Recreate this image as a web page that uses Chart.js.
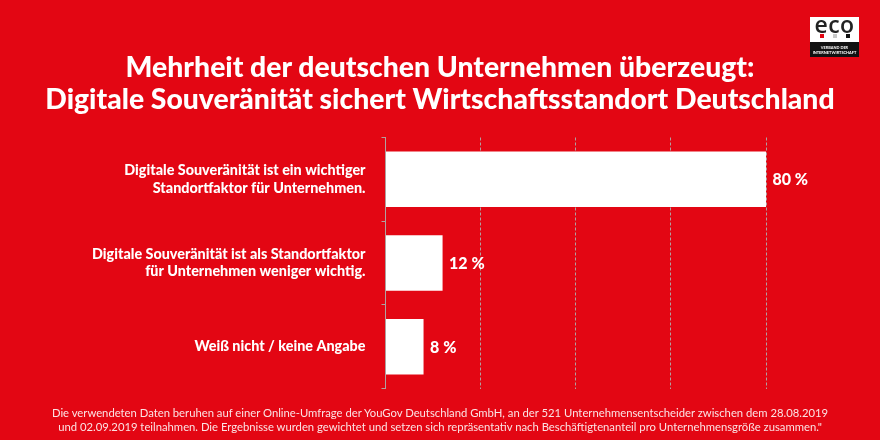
<!DOCTYPE html>
<html lang="de">
<head>
<meta charset="utf-8">
<title>Digitale Souveränität</title>
<script src="https://cdn.jsdelivr.net/npm/chart.js@4"></script>
<style>
  html, body { margin: 0; padding: 0; background: #e30613; }
  #wrap { position: relative; width: 880px; height: 440px; background: #e30613; overflow: hidden; font-family: Lato, sans-serif; color: #fff; }
  #chart { position: absolute; left: 0; top: 0; }
  #title { position: absolute; left: 0; top: 50px; width: 880px; text-align: center; font-size: 28.35px; font-weight: 900; line-height: 32px; white-space: nowrap; }
  #note { position: absolute; left: 0; top: 406px; width: 880px; text-align: center; font-size: 11.28px; line-height: 14px; color: #fbe3e4; white-space: nowrap; }
  #logo { position: absolute; left: 810px; top: 17px; width: 49px; height: 40px; background: #fff; }
  #logo .word { position: absolute; left: 0; top: -5px; width: 100%; text-align: center; font-size: 23px; line-height: 24px; font-weight: 600; letter-spacing: 0.5px; color: #222; font-family: "Open Sans", sans-serif; }
  #logo i { position: absolute; top: 17px; width: 4px; height: 4px; }
  #logo .strip { position: absolute; left: 0; top: 25px; width: 100%; height: 15px; background: #111; color: #fff; font-size: 3.9px; font-weight: 700; line-height: 5px; text-align: center; padding-top: 3px; box-sizing: border-box; white-space: nowrap; }
</style>
</head>
<body>
<div id="wrap">
  <canvas id="chart" width="880" height="440"></canvas>
  <div id="title">Mehrheit der deutschen Unternehmen überzeugt:<br>Digitale Souveränität sichert Wirtschaftsstandort Deutschland</div>
  <div id="note">Die verwendeten Daten beruhen auf einer Online-Umfrage der YouGov Deutschland GmbH, an der 521 Unternehmensentscheider zwischen dem 28.08.2019<br>und 02.09.2019 teilnahmen. Die Ergebnisse wurden gewichtet und setzen sich repräsentativ nach Beschäftigtenanteil pro Unternehmensgröße zusammen."</div>
  <div id="logo">
    <div class="word">eco</div>
    <i style="left:10px;background:#e30613"></i>
    <i style="left:23px;background:#c8c8c8"></i>
    <i style="left:36px;background:#111"></i>
    <div class="strip">VERBAND DER<br>INTERNETWIRTSCHAFT</div>
  </div>
</div>
<script>
// --- Data ---
const categories = [
  ['Digitale Souveränität ist ein wichtiger', 'Standortfaktor für Unternehmen.'],
  ['Digitale Souveränität ist als Standortfaktor', 'für Unternehmen weniger wichtig.'],
  'Weiß nicht / keine Angabe'
];
const shares = [80, 12, 8];
const axisMax = 80;
const axisStep = 20;

const GRID = '#b0a0a0';

// Value labels next to the bars
const valueLabels = {
  id: 'valueLabels',
  afterDatasetsDraw(chart) {
    const ctx = chart.ctx;
    ctx.save();
    ctx.fillStyle = '#fff';
    ctx.font = '900 16px Lato, sans-serif';
    ctx.textAlign = 'left';
    ctx.textBaseline = 'middle';
    chart.getDatasetMeta(0).data.forEach((bar, i) => {
      ctx.fillText(shares[i] + ' %', bar.x + 6.5, bar.y + 1);
    });
    ctx.restore();
  }
};

new Chart(document.getElementById('chart'), {
  type: 'bar',
  data: {
    labels: categories,
    datasets: [{
      data: shares,
      backgroundColor: '#fff',
      borderWidth: 0,
      categoryPercentage: 1,
      barPercentage: 0.663
    }]
  },
  options: {
    indexAxis: 'y',
    responsive: false,
    animation: false,
    layout: { padding: { top: 137.5, right: 114, bottom: 51.5, left: 0 } },
    plugins: { legend: { display: false }, tooltip: { enabled: false } },
    scales: {
      x: {
        min: 0,
        max: axisMax,
        ticks: { display: false, stepSize: axisStep },
        border: { display: false, dash: [3, 2] },
        grid: {
          drawTicks: false,
          lineWidth: 1,
          color: (c) => (c.tick.value === 0 ? 'transparent' : GRID)
        }
      },
      y: {
        afterFit(scale) { scale.width = 385.5; },
        border: { display: true, color: GRID, width: 1 },
        grid: { drawOnChartArea: false, drawTicks: true, tickLength: 4, color: GRID },
        ticks: {
          color: '#fff',
          font: { family: 'Lato, sans-serif', size: 14.36, weight: 900, lineHeight: 1.2 },
          crossAlign: 'near',
          padding: 16
        }
      }
    }
  },
  plugins: [valueLabels]
});
</script>
</body>
</html>
